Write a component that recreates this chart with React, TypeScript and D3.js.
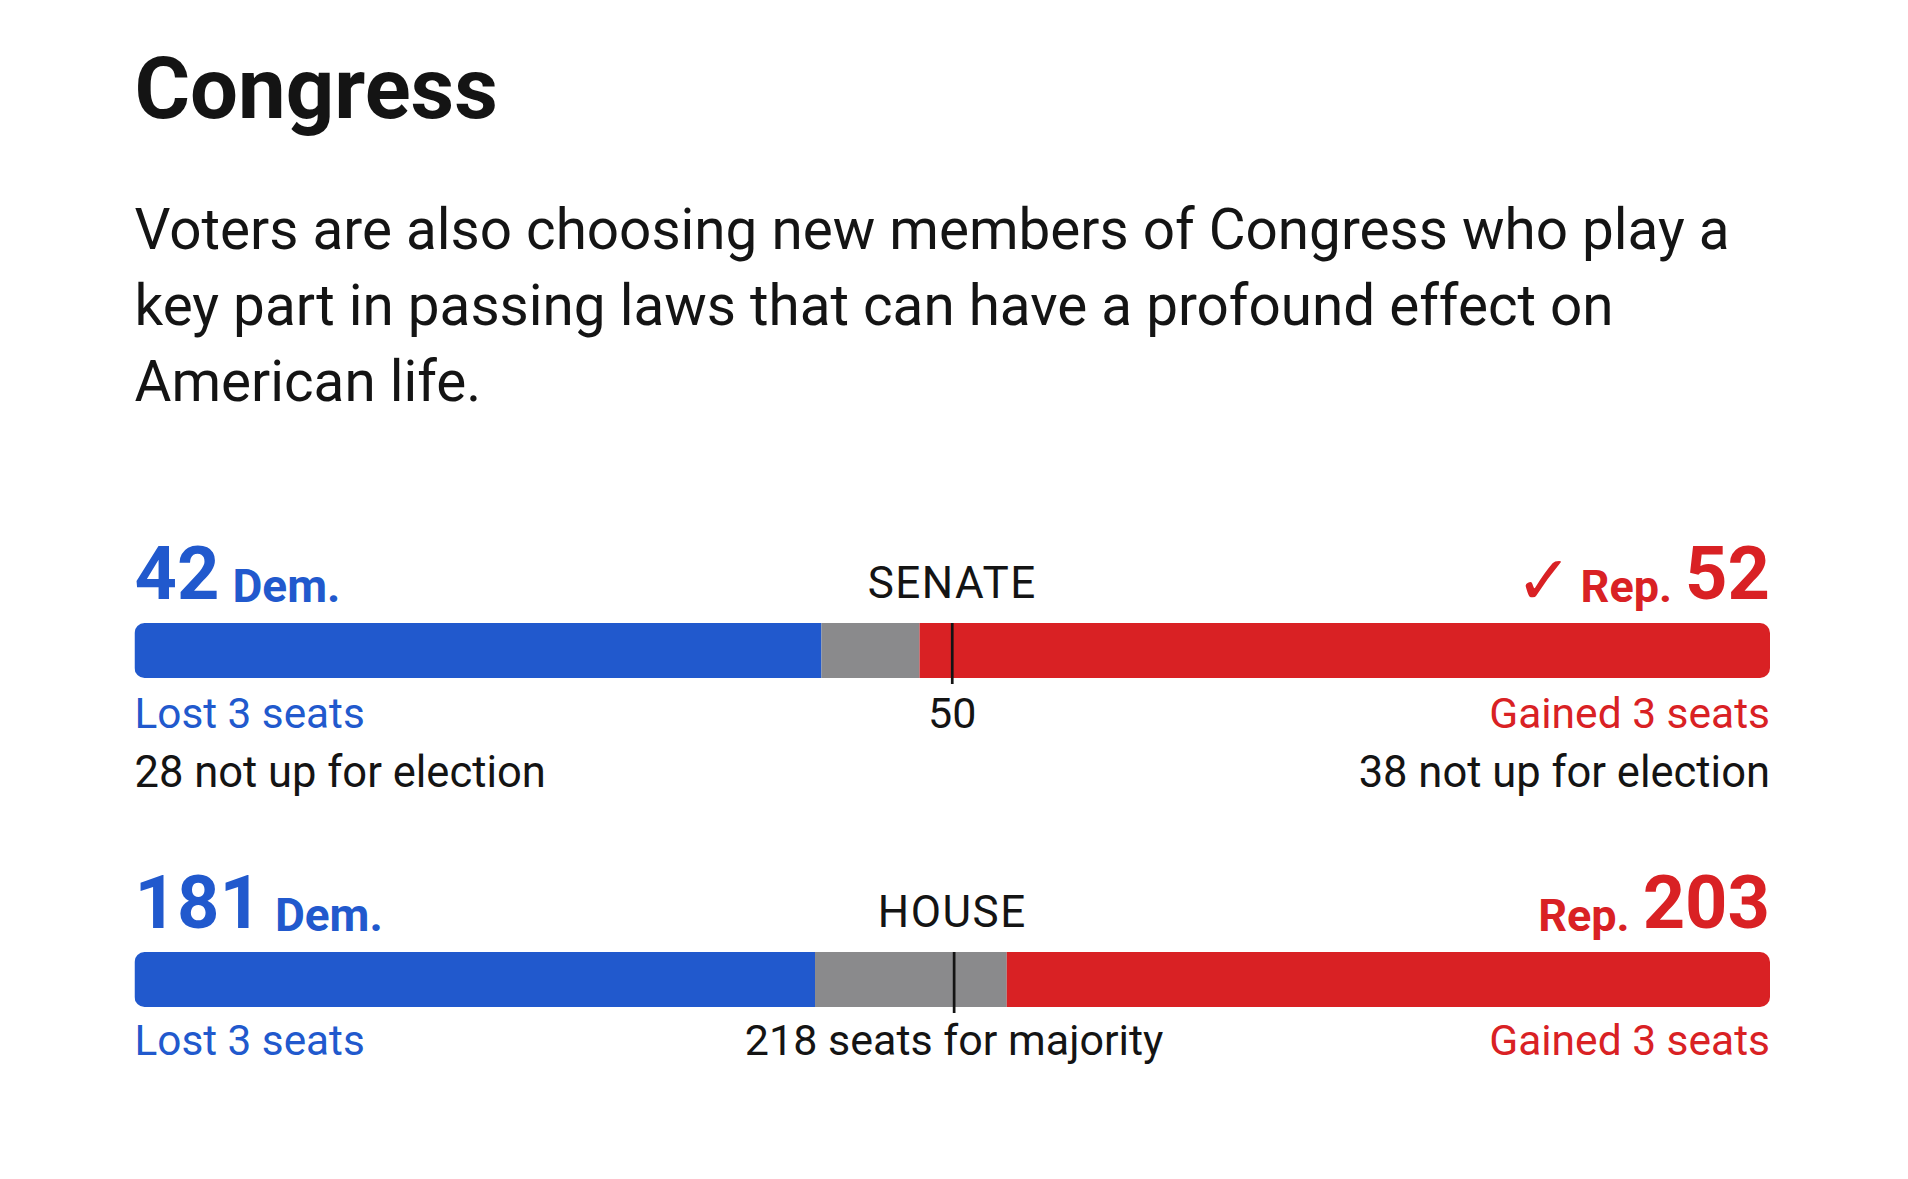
import { useEffect } from 'react';
import * as d3 from 'd3';

const TITLE = 'Congress';
const INTRO_LINES = [
  'Voters are also choosing new members of Congress who play a',
  'key part in passing laws that can have a profound effect on',
  'American life.',
];

const CHAMBERS = ['SENATE', 'HOUSE'];
const DEM_SEATS = [42, 181];
const REP_SEATS = [52, 203];
const TOTAL_SEATS = [100, 435];
const MAJORITY = [50, 218];
const MAJORITY_LABELS = ['50', '218 seats for majority'];
const DEM_CHANGE = ['Lost 3 seats', 'Lost 3 seats'];
const REP_CHANGE = ['Gained 3 seats', 'Gained 3 seats'];
const DEM_NOT_UP = ['28 not up for election', ''];
const REP_NOT_UP = ['38 not up for election', ''];
const REP_WON = [true, false];

const W = 1908;
const H = 1179;
const LEFT = 134.5;
const RIGHT = 1770;
const BLOCK_BASE = [599, 928]; // header baseline of each chamber
const BAR_H = 55;
const FONT = 'Roboto, "Noto Sans", sans-serif';

const BLUE = '#2159cd';
const RED = '#d92124';
const GREY = '#8a8a8c';
const INK = '#141414';

export default function App() {
  useEffect(() => {
    document.body.style.margin = '0';
  }, []);

  return (
    <svg width={W} height={H} viewBox={`0 0 ${W} ${H}`} style={{ display: 'block', background: '#fff' }}>
      <text x={LEFT} y={118} fill={INK} fontFamily={FONT} fontWeight={700} fontSize={85}>
        {TITLE}
      </text>
      {INTRO_LINES.map((line, i) => (
        <text key={i} x={LEFT} y={249 + i * 75.8} fill={INK} fontFamily={FONT} fontSize={56.6}>
          {line}
        </text>
      ))}

      {CHAMBERS.map((name, i) => {
        const x = d3.scaleLinear().domain([0, TOTAL_SEATS[i]]).range([LEFT, RIGHT]);
        const base = BLOCK_BASE[i];
        const barY = base + 24;
        const segments = [
          { from: 0, to: DEM_SEATS[i], color: BLUE },
          { from: DEM_SEATS[i], to: TOTAL_SEATS[i] - REP_SEATS[i], color: GREY },
          { from: TOTAL_SEATS[i] - REP_SEATS[i], to: TOTAL_SEATS[i], color: RED },
        ];
        const clipId = `bar-clip-${i}`;
        const mid = (LEFT + RIGHT) / 2;
        const labelY = base + 128.5 - i * 1.5;
        return (
          <g key={name}>
            {/* header */}
            <text x={LEFT} y={base} fill={BLUE} fontFamily={FONT} fontWeight={700}>
              <tspan fontSize={74}>{DEM_SEATS[i]}</tspan>
              <tspan dx={13} fontSize={46} dy={2.5}>Dem.</tspan>
            </text>
            <text x={mid} y={base - 1} textAnchor="middle" fill={INK} fontFamily={FONT} fontSize={44} letterSpacing={1.5}>
              {name}
            </text>
            <text x={RIGHT} y={base} textAnchor="end" fill={RED} fontFamily={FONT} fontWeight={700}>
              {REP_WON[i] && (
                <tspan fontSize={68} fontFamily='"DejaVu Sans", sans-serif' dy={5}>
                  {'\u2713'}
                </tspan>
              )}
              <tspan dx={REP_WON[i] ? 8 : 0} fontSize={45} dy={REP_WON[i] ? -2.5 : 2.5}>Rep.</tspan>
              <tspan dx={13} fontSize={74} dy={-2.5}>{REP_SEATS[i]}</tspan>
            </text>

            {/* bar */}
            <clipPath id={clipId}>
              <rect x={x(0)} y={barY} width={x(TOTAL_SEATS[i]) - x(0)} height={BAR_H} rx={10} ry={10} />
            </clipPath>
            <g clipPath={`url(#${clipId})`}>
              {segments.map((s, k) => (
                <rect key={k} x={x(s.from)} y={barY} width={x(s.to) - x(s.from)} height={BAR_H} fill={s.color} />
              ))}
            </g>
            <line
              x1={x(MAJORITY[i])}
              x2={x(MAJORITY[i])}
              y1={barY}
              y2={barY + BAR_H + 6}
              stroke={INK}
              strokeWidth={2.7}
            />

            {/* labels under bar */}
            <text x={LEFT} y={labelY} fill={BLUE} fontFamily={FONT} fontSize={42.3}>
              {DEM_CHANGE[i]}
            </text>
            <text x={x(MAJORITY[i])} y={labelY} textAnchor="middle" fill={INK} fontFamily={FONT} fontSize={43}>
              {MAJORITY_LABELS[i]}
            </text>
            <text x={RIGHT} y={labelY} textAnchor="end" fill={RED} fontFamily={FONT} fontSize={42.5}>
              {REP_CHANGE[i]}
            </text>
            {DEM_NOT_UP[i] && (
              <text x={LEFT} y={base + 188} fill={INK} fontFamily={FONT} fontSize={43.5}>
                {DEM_NOT_UP[i]}
              </text>
            )}
            {REP_NOT_UP[i] && (
              <text x={RIGHT} y={base + 188} textAnchor="end" fill={INK} fontFamily={FONT} fontSize={43.5}>
                {REP_NOT_UP[i]}
              </text>
            )}
          </g>
        );
      })}
    </svg>
  );
}
